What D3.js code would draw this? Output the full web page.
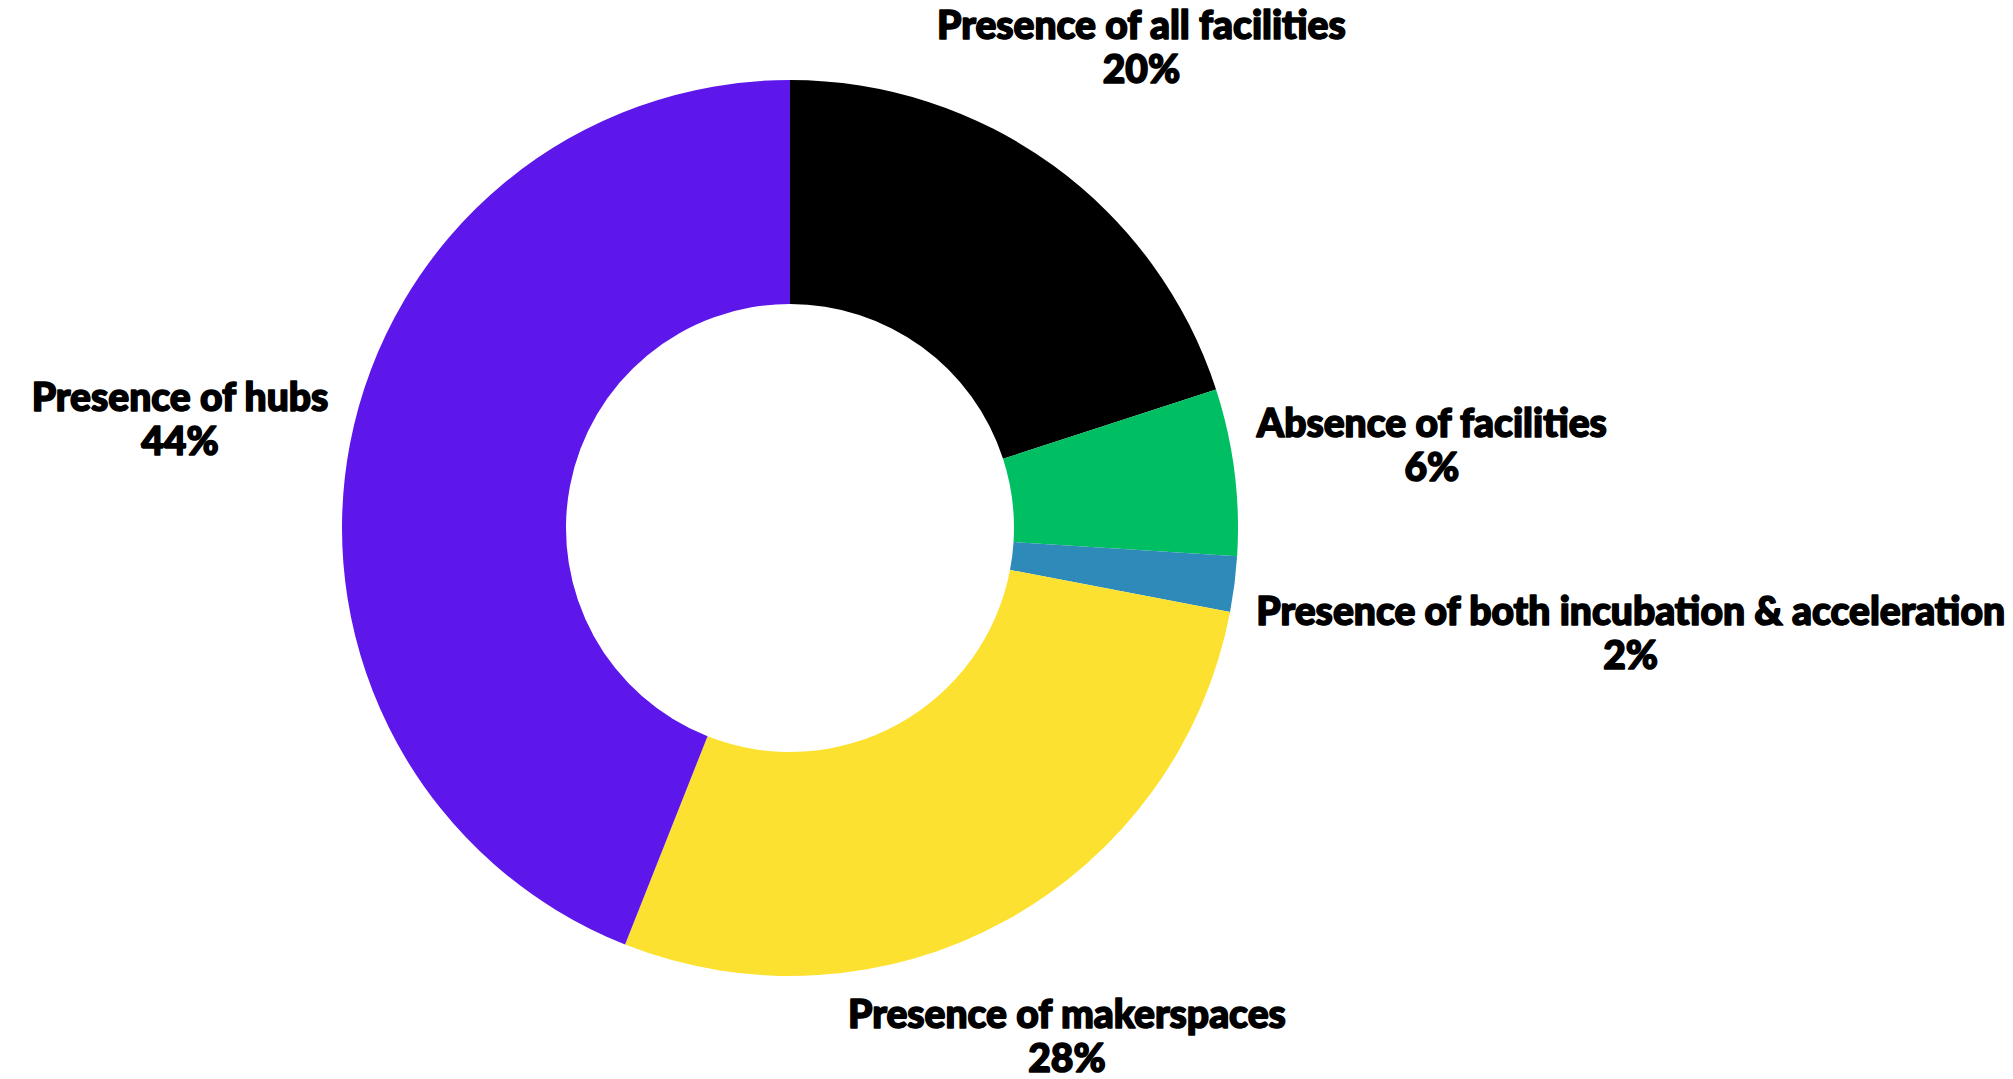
<!DOCTYPE html>
<html>
<head>
<meta charset="utf-8">
<script src="https://cdn.jsdelivr.net/npm/d3@7/dist/d3.min.js"></script>
<style>
  html, body { margin: 0; padding: 0; background: #ffffff; }
  svg { display: block; }
  .label {
    font-family: "Lato", "DejaVu Sans", sans-serif; font-weight: 900; fill: #000;
    stroke: #000; stroke-width: 1.6px; stroke-linejoin: round;
  }
</style>
</head>
<body>
<svg id="chart" width="2013" height="1079"></svg>
<script>
// Distribution of innovation facilities
const categories = [
  "Presence of all facilities",
  "Absence of facilities",
  "Presence of both incubation & acceleration",
  "Presence of makerspaces",
  "Presence of hubs"
];
const shares = [20, 6, 2, 28, 44];
const colors = ["#000000", "#00bf63", "#2d8ab9", "#fce130", "#5e17eb"];

// Layout
const W = 2013, H = 1079;
const cx = 790, cy = 528;
const outerR = 448, innerR = 224;
const fontSize = 39, lineGap = 44;
// distance from centre to the nearest edge of a label block
const labelR = 470;
// extra shifts applied to label blocks after radial placement
const labelShift = [
  [-45, -57], [0, -25], [0, 45], [-55, 50], [0, -22]
];

const svg = d3.select("#chart");
const g = svg.append("g").attr("transform", `translate(${cx},${cy})`);

const data = categories.map((c, i) => ({ name: c, value: shares[i], color: colors[i] }));

const pie = d3.pie().value(d => d.value).sort(null);
const arc = d3.arc().innerRadius(innerR).outerRadius(outerR);
const arcs = pie(data);

g.selectAll("path.slice")
  .data(arcs)
  .enter().append("path")
  .attr("class", "slice")
  .attr("d", arc)
  .attr("fill", d => d.data.color);

// Labels: two lines (name + percentage), block pushed outward from the mid-angle
const labels = g.selectAll("g.lbl")
  .data(arcs)
  .enter().append("g")
  .attr("class", "lbl");

labels.each(function(d, i) {
  const grp = d3.select(this);
  const t = grp.append("text")
    .attr("class", "label")
    .attr("text-anchor", "middle")
    .style("font-size", fontSize + "px");
  t.append("tspan").attr("x", 0).attr("y", 0).text(d.data.name);
  t.append("tspan").attr("x", 0).attr("y", lineGap).text(d.data.value + "%");

  const bb = t.node().getBBox();
  const mid = (d.startAngle + d.endAngle) / 2;
  const sx = Math.sin(mid), sy = -Math.cos(mid);
  const px = sx * labelR, py = sy * labelR;
  // shift the block so its nearest side touches the anchor point
  let bx, by;
  if (Math.abs(sx) > 0.7) {
    bx = px + Math.sign(sx) * bb.width / 2;
    by = py - (bb.y + bb.height / 2);
  } else {
    bx = px + sx * bb.width / 2;
    by = py - (sy < 0 ? bb.y + bb.height : bb.y);
  }
  bx += labelShift[i][0];
  by += labelShift[i][1];
  grp.attr("transform", `translate(${bx},${by})`);
});
</script>
</body>
</html>
